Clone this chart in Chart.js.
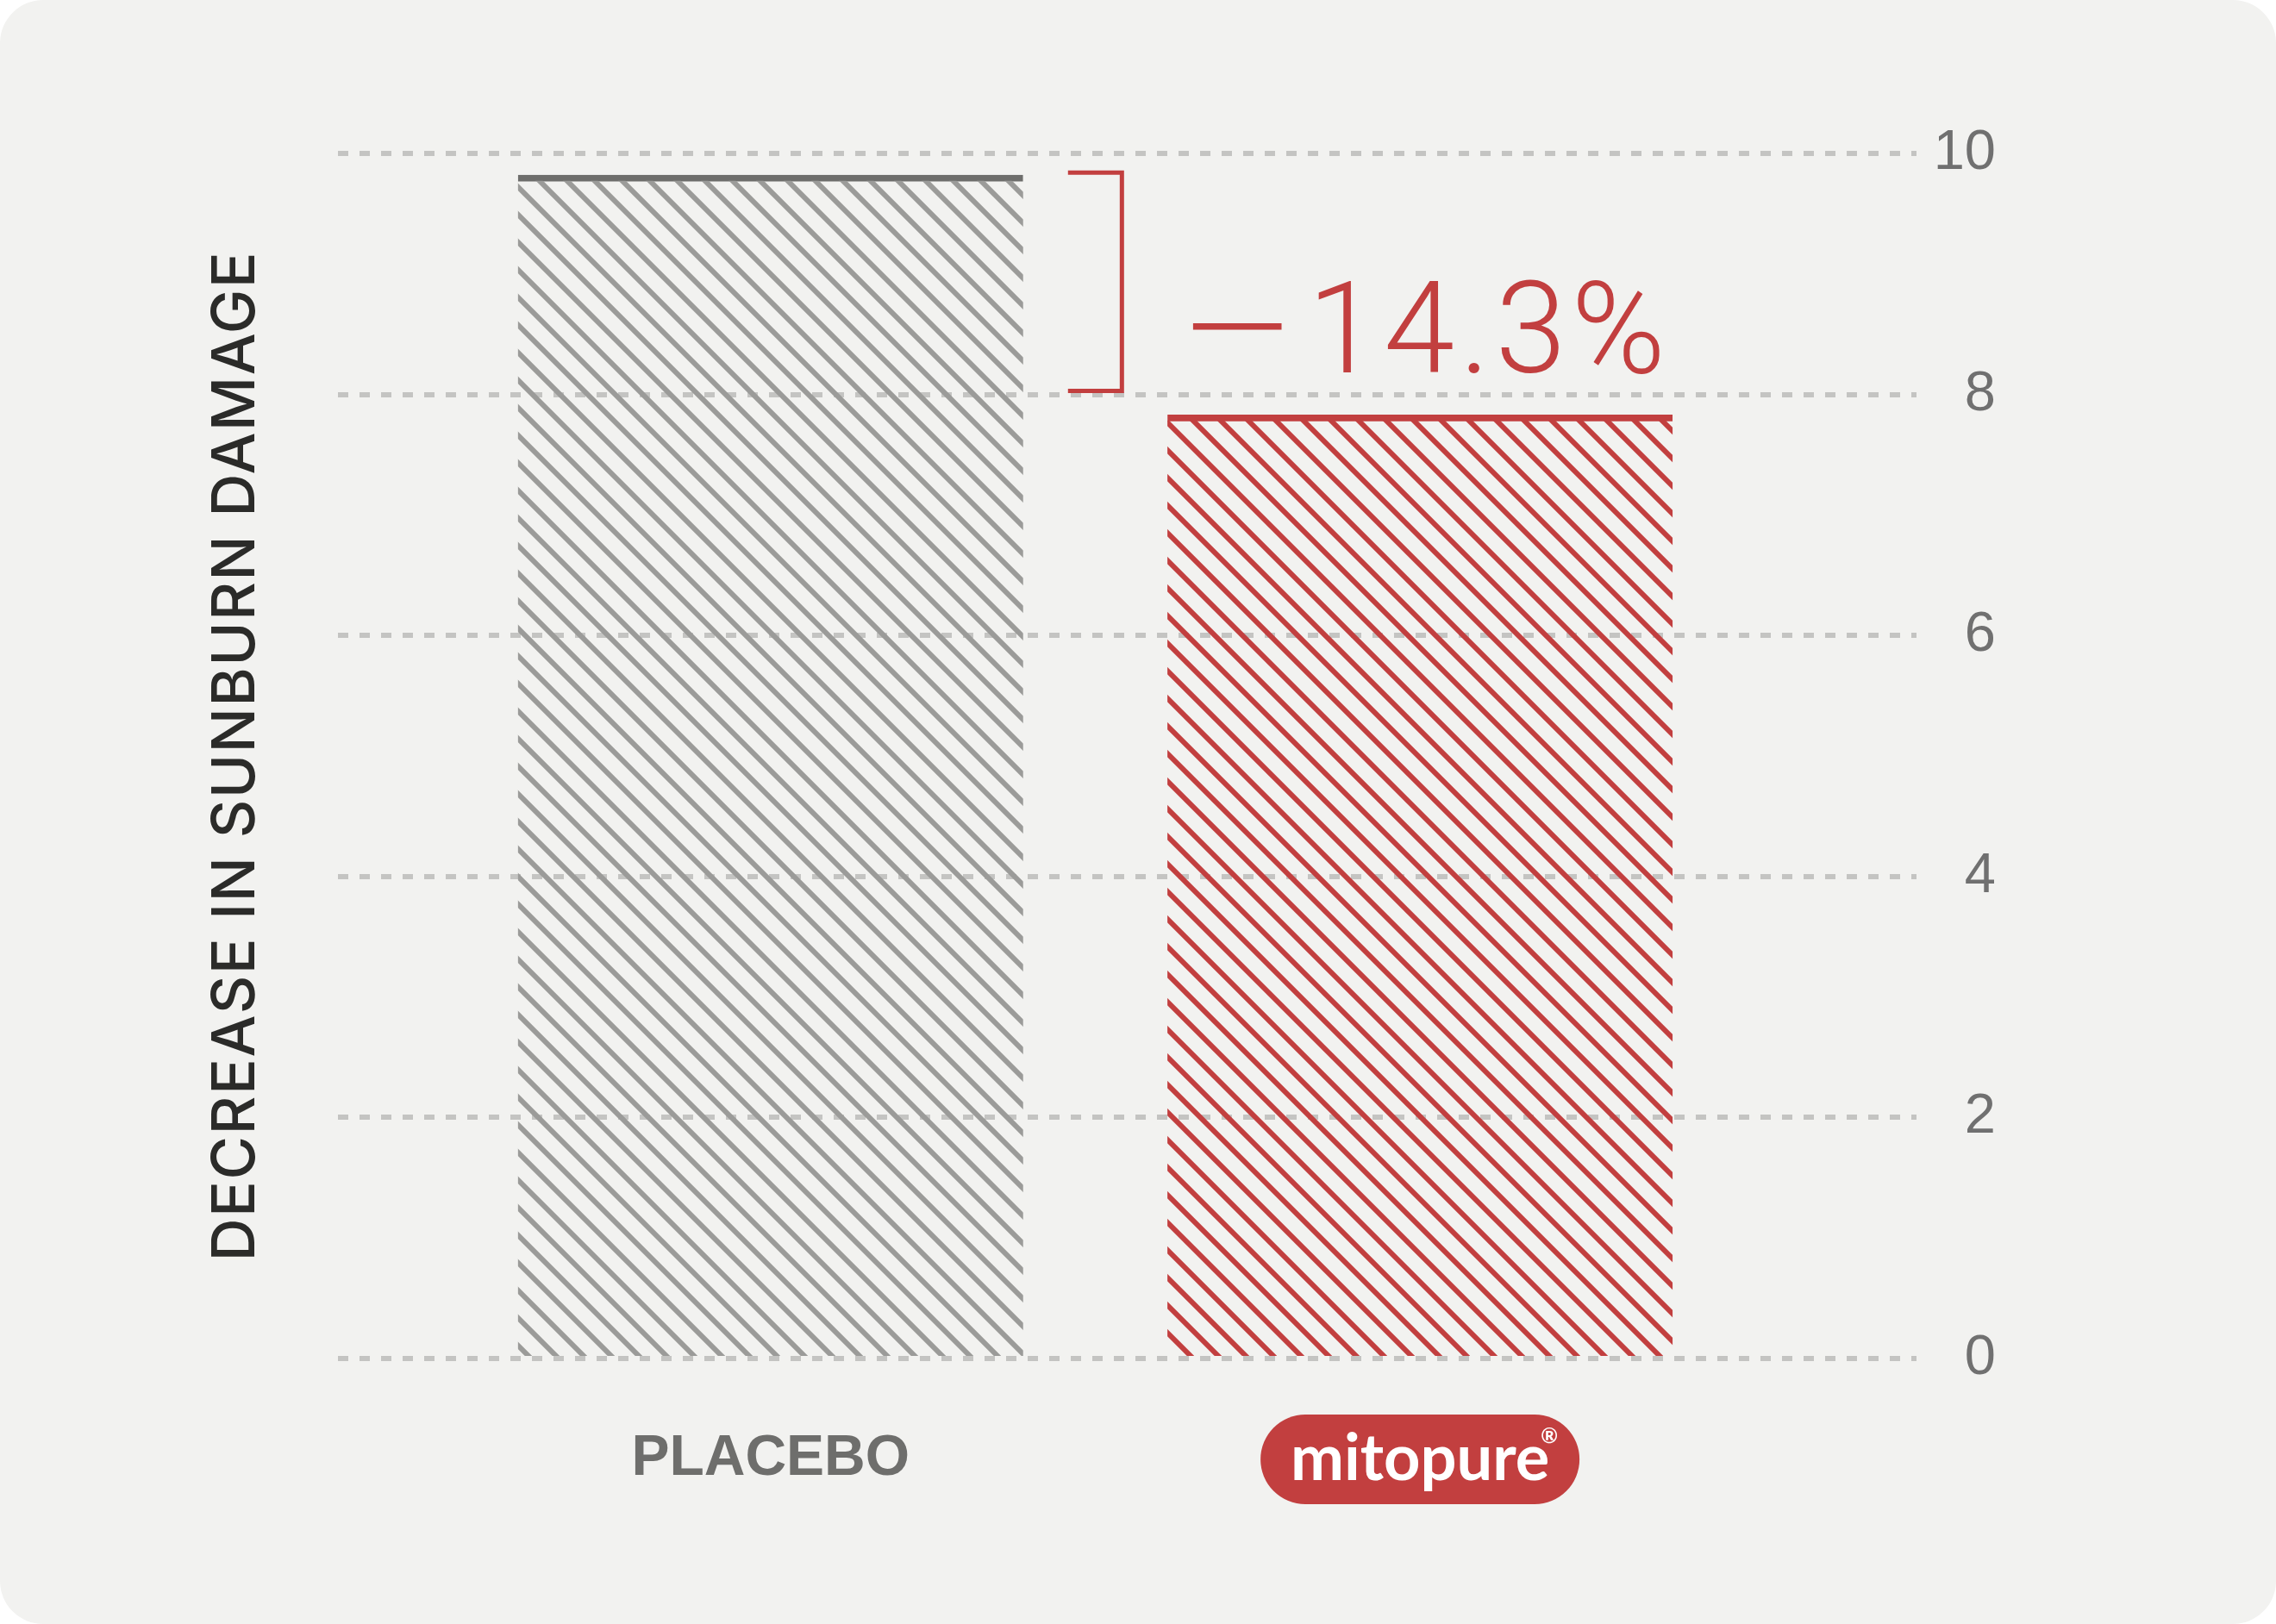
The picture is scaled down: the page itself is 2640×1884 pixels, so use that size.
<!DOCTYPE html>
<html>
<head>
<meta charset="utf-8">
<script src="https://cdn.jsdelivr.net/npm/chart.js@4.4.1/dist/chart.umd.min.js"></script>
<style>
  html, body { margin: 0; padding: 0; background: #fff; }
  #wrap { width: 2640px; height: 1884px; background: #f2f2f0; border-radius: 50px; overflow: hidden; }
  canvas { display: block; }
</style>
</head>
<body>
<div id="wrap"><canvas id="chart" width="2640" height="1884"></canvas></div>
<script>
// --- data ---
const categories = ['PLACEBO', 'mitopure'];
const values = [9.82, 7.83];
const yTicks = [0, 2, 4, 6, 8, 10];
const diffLabel = ['−', '14.3%'];
const bracketRange = [9.84, 8.03];
const axisTitle = 'DECREASE IN SUNBURN DAMAGE';

const GREY = '#9b9b99';
const GREY_DARK = '#6e6e6c';
const RED = '#c23f3f';
const LABEL_PAD = 78;

const canvas = document.getElementById('chart');
const ctx = canvas.getContext('2d');

// diagonal hatch fill, lines running top-left to bottom-right
function hatch(color) {
  const s = 32;
  const c = document.createElement('canvas');
  c.width = c.height = s;
  const g = c.getContext('2d');
  g.strokeStyle = color;
  g.lineWidth = 6;
  g.beginPath();
  g.moveTo(-8, -8); g.lineTo(s + 8, s + 8);
  g.moveTo(-8, s - 8); g.lineTo(8, s + 8);
  g.moveTo(s - 8, -8); g.lineTo(s + 8, 8);
  g.stroke();
  return ctx.createPattern(c, 'repeat');
}

const extras = {
  id: 'extras',
  beforeDraw(chart) {
    // red pill behind the mitopure label
    const x = chart.scales.x;
    const g = chart.ctx;
    const cx = x.getPixelForValue(2);
    const cy = x.top + LABEL_PAD + 39;
    const w = 370, h = 104;
    g.save();
    g.fillStyle = RED;
    g.beginPath();
    g.roundRect(cx - w / 2, cy - h / 2, w, h, h / 2);
    g.fill();
    g.restore();
  },
  afterDraw(chart) {
    const { x, y } = chart.scales;
    const g = chart.ctx;
    const area = chart.chartArea;

    // registered mark on the logo
    const cx = x.getPixelForValue(2);
    const cy = x.top + LABEL_PAD + 39;
    g.save();
    g.fillStyle = '#fff';
    g.font = 'bold 24px Lato';
    g.textAlign = 'center';
    g.textBaseline = 'middle';
    g.fillText('®', cx + 150, cy - 27);
    g.restore();

    // bracket between the two bar tops
    const bx0 = x.getPixelForValue(1.458), bx1 = x.getPixelForValue(1.541);
    const by0 = y.getPixelForValue(bracketRange[0]), by1 = y.getPixelForValue(bracketRange[1]);
    g.save();
    g.strokeStyle = RED;
    g.lineWidth = 5;
    g.beginPath();
    g.moveTo(bx0, by0); g.lineTo(bx1, by0); g.lineTo(bx1, by1); g.lineTo(bx0, by1);
    g.stroke();

    // -14.3% label
    const base = y.getPixelForValue(8.18);
    g.fillStyle = RED;
    g.font = '300 148px Roboto';
    g.textBaseline = 'alphabetic';
    g.save();
    g.translate(x.getPixelForValue(1.719), base);
    g.scale(1.7, 1);
    g.textAlign = 'center';
    g.fillText(diffLabel[0], 0, 0);
    g.restore();
    g.textAlign = 'left';
    g.letterSpacing = '6px';
    g.fillText(diffLabel[1], x.getPixelForValue(1.827), base);
    g.restore();

    // vertical axis title on the left
    g.save();
    g.translate(area.left - 118, (area.top + area.bottom) / 2);
    g.rotate(-Math.PI / 2);
    g.font = '500 69px Inter';
    g.fillStyle = '#2b2b29';
    g.letterSpacing = '0px';
    const w = g.measureText(axisTitle).width;
    g.letterSpacing = ((1171 - w) / (axisTitle.length - 1)).toFixed(2) + 'px';
    g.textAlign = 'center';
    g.textBaseline = 'middle';
    g.fillText(axisTitle, 0, 0);
    g.restore();
  }
};

Chart.defaults.font.family = 'Liberation Sans';

new Chart(ctx, {
  type: 'bar',
  data: {
    datasets: [{
      data: values.map((v, i) => ({ x: i + 1, y: v })),
      backgroundColor: [hatch(GREY), hatch(RED)],
      borderColor: [GREY_DARK, RED],
      borderWidth: { top: 7, left: 0, right: 0, bottom: 0 },
      borderSkipped: false,
      barThickness: 586,
    }],
  },
  options: {
    responsive: false,
    devicePixelRatio: 1,
    animation: false,
    layout: { padding: { top: 178, left: 392, right: 325, bottom: 74 } },
    plugins: {
      legend: { display: false },
      tooltip: { enabled: false },
    },
    scales: {
      x: {
        type: 'linear',
        min: 0.334,
        max: 2.764,
        offset: false,
        bounds: 'data',
        grid: { display: false, drawTicks: false },
        border: { display: false },
        afterBuildTicks: (s) => { s.ticks = categories.map((_, i) => ({ value: i + 1 })); },
        ticks: {
          padding: LABEL_PAD,
          maxRotation: 0,
          autoSkip: false,
          callback: (v) => categories[v - 1],
          color: (c) => (c.index === 1 ? '#ffffff' : GREY_DARK),
          font: (c) => (c.index === 1
            ? { family: 'Lato', size: 74, weight: 'bold', lineHeight: 1.054 }
            : { family: 'Liberation Sans', size: 66, weight: 'bold', lineHeight: 1.182 }),
        },
      },
      y: {
        position: 'right',
        min: 0,
        max: 10,
        z: 1,
        afterBuildTicks: (s) => { s.ticks = yTicks.map((v) => ({ value: v })); },
        border: { display: false, dash: [12, 13] },
        grid: { color: 'rgba(150,150,148,0.5)', lineWidth: 6, drawTicks: false },
        ticks: {
          padding: 10,
          crossAlign: 'far',
          color: '#707070',
          font: { family: 'Liberation Sans', size: 65 },
        },
      },
    },
  },
  plugins: [extras],
});
</script>
</body>
</html>
